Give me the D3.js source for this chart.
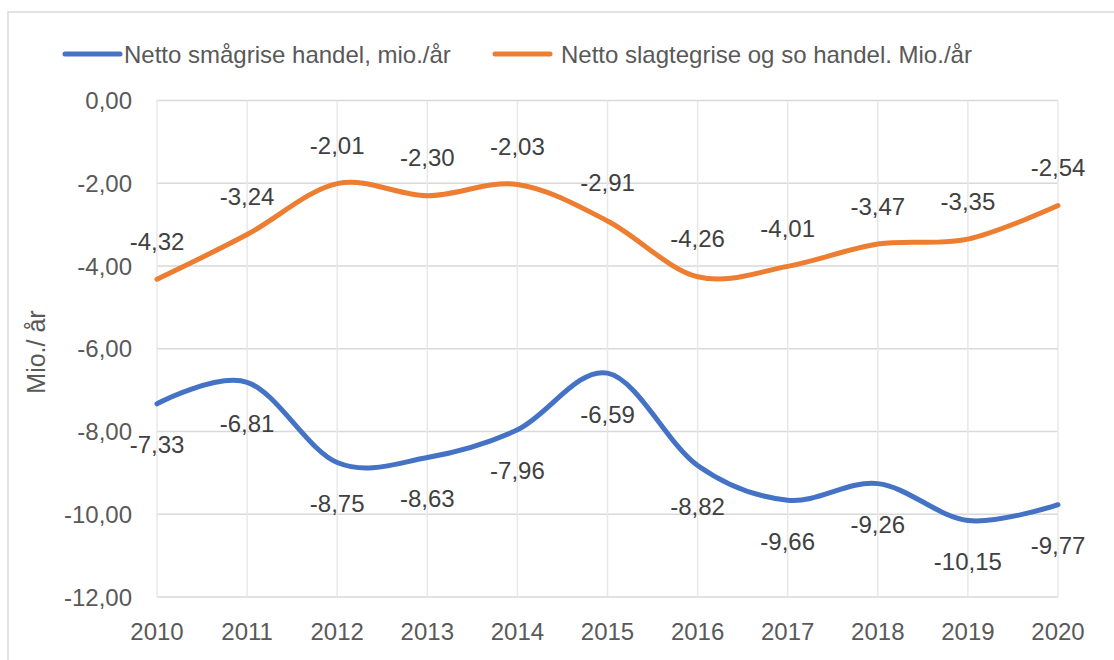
<!DOCTYPE html>
<html><head><meta charset="utf-8">
<script src="https://cdn.jsdelivr.net/npm/d3@7"></script>
<style>
html,body{margin:0;padding:0;background:#fff;}
svg{display:block;font-family:"Liberation Sans",Arial,sans-serif;}
</style></head>
<body><svg id="c" width="1114" height="660"></svg>
<script>
const years = [2010,2011,2012,2013,2014,2015,2016,2017,2018,2019,2020];
const smaagrise = [-7.33,-6.81,-8.75,-8.63,-7.96,-6.59,-8.82,-9.66,-9.26,-10.15,-9.77];
const slagtegrise = [-4.32,-3.24,-2.01,-2.30,-2.03,-2.91,-4.26,-4.01,-3.47,-3.35,-2.54];
const seriesNames = ["Netto smågrise handel, mio./år","Netto slagtegrise og so handel. Mio./år"];
const yTicks = [0,-2,-4,-6,-8,-10,-12];
const yTitle = "Mio./ år";

const svg = d3.select("#c");
const fmt = v => v.toFixed(2).replace(".", ",");
const x = d3.scaleLinear().domain([2010,2020]).range([157,1058]);
const y = d3.scaleLinear().domain([-12,0]).range([597,100.5]);
const grid = "#d9d9d9", txt = "#595959", lbl = "#404040";
const fs = 24;

// outer border
svg.append("rect").attr("x",8).attr("y",12).attr("width",1200).attr("height",700)
  .attr("fill","none").attr("stroke",grid).attr("stroke-width",1.5);

// horizontal gridlines
svg.append("g").selectAll("line").data(yTicks).join("line")
  .attr("x1",x(2010)).attr("x2",x(2020)).attr("y1",d=>y(d)).attr("y2",d=>y(d))
  .attr("stroke",grid).attr("stroke-width",1.5);
// vertical gridlines
svg.append("g").selectAll("line").data(years).join("line")
  .attr("x1",d=>x(d)).attr("x2",d=>x(d)).attr("y1",y(0)).attr("y2",y(-12))
  .attr("stroke","#e8e8e8").attr("stroke-width",1.5);

// y tick labels
svg.append("g").selectAll("text").data(yTicks).join("text")
  .attr("x",132).attr("y",d=>y(d)).attr("text-anchor","end").attr("dominant-baseline","central")
  .attr("font-size",fs).attr("fill",txt).text(d=>fmt(d));
// x tick labels
svg.append("g").selectAll("text").data(years).join("text")
  .attr("x",d=>x(d)).attr("y",640).attr("text-anchor","middle")
  .attr("font-size",fs).attr("fill",txt).text(d=>d);
// y title
svg.append("text").attr("transform","translate(45,352) rotate(-90)")
  .attr("text-anchor","middle").attr("font-size",25).attr("fill",txt).text(yTitle);

const series = [
  {name:seriesNames[0], vals:smaagrise, color:"#4472C4", off:41},
  {name:seriesNames[1], vals:slagtegrise, color:"#ED7D31", off:-38}
];
const line = d3.line().x((d,i)=>x(years[i])).y(d=>y(d)).curve(d3.curveCardinal.tension(0));
series.forEach(s=>{
  svg.append("path").attr("d",line(s.vals)).attr("fill","none")
    .attr("stroke",s.color).attr("stroke-width",5).attr("stroke-linecap","round");
});
series.forEach(s=>{
  svg.append("g").selectAll("text").data(s.vals).join("text")
    .attr("x",(d,i)=>x(years[i])).attr("y",d=>y(d)+s.off)
    .attr("text-anchor","middle").attr("dominant-baseline","central")
    .attr("font-size",fs).attr("fill",lbl).text(d=>fmt(d));
});

// legend
const leg = [{x:65,tx:124},{x:495,tx:561}];
series.forEach((s,i)=>{
  svg.append("line").attr("x1",leg[i].x).attr("x2",leg[i].x+55).attr("y1",54).attr("y2",54)
    .attr("stroke",s.color).attr("stroke-width",5).attr("stroke-linecap","round");
  svg.append("text").attr("x",leg[i].tx).attr("y",54).attr("dominant-baseline","central")
    .attr("font-size",fs).attr("fill",txt).text(s.name);
});
</script></body></html>
